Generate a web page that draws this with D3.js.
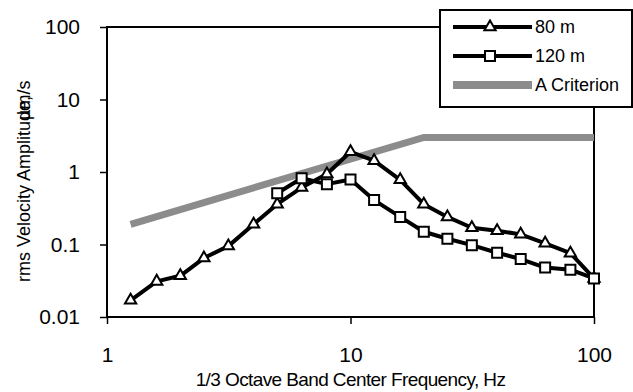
<!DOCTYPE html>
<html>
<head>
<meta charset="utf-8">
<script src="https://cdn.jsdelivr.net/npm/d3@7"></script>
<style>
  html, body { margin: 0; padding: 0; background: #fff; }
  text { font-family: 'Liberation Sans', Arial, sans-serif; fill: #000; }
</style>
</head>
<body>
<svg id="chart" width="633" height="392"></svg>
<script>
// 1/3 octave band centre frequencies, Hz
const freqs = [1.25, 1.6, 2, 2.5, 3.15, 4, 5, 6.3, 8, 10, 12.5, 16, 20, 25, 31.5, 40, 50, 63, 80, 100];

// rms velocity, um/s
const v80 = [0.017, 0.031, 0.037, 0.065, 0.095, 0.19, 0.36, 0.61, 0.94, 1.9, 1.43, 0.78, 0.36, 0.24, 0.17, 0.155, 0.138, 0.104, 0.076, 0.034];
const freqs120 = [5, 6.3, 8, 10, 12.5, 16, 20, 25, 31.5, 40, 50, 63, 80, 100];
const v120 = [0.51, 0.82, 0.68, 0.79, 0.41, 0.24, 0.15, 0.12, 0.098, 0.077, 0.063, 0.048, 0.045, 0.034];
const critFreqs = [1.25, 20, 100];
const critVals = [0.19, 3, 3];

const xTicks = [1, 10, 100];
const yTicks = [0.01, 0.1, 1, 10, 100];
const legendLabels = ['80 m', '120 m', 'A Criterion'];

const margin = { top: 27, right: 39, bottom: 75, left: 107 };
const width = 633 - margin.left - margin.right;
const height = 392 - margin.top - margin.bottom;
const FONT = "'Liberation Sans', Arial, sans-serif";

const svg = d3.select('#chart');
const g = svg.append('g')
    .attr('transform', `translate(${margin.left},${margin.top})`);

const x = d3.scaleLog().domain([1, 100]).range([0, width]);
const y = d3.scaleLog().domain([0.01, 100]).range([height, 0]);

// frame
g.append('rect')
    .attr('width', width)
    .attr('height', height)
    .attr('fill', 'none')
    .attr('stroke', '#000')
    .attr('stroke-width', 2);

// axes
const xAxis = g.append('g')
    .attr('transform', `translate(0,${height})`)
    .call(d3.axisBottom(x).tickValues(xTicks).tickFormat(d3.format('')).tickSize(7).tickPadding(23));
const yAxis = g.append('g')
    .call(d3.axisLeft(y).tickValues(yTicks).tickFormat(d => String(d)).tickSize(7).tickPadding(20));

[xAxis, yAxis].forEach(a => {
    a.select('.domain').remove();
    a.selectAll('line').attr('stroke', '#000').attr('stroke-width', 1.5);
    a.selectAll('text').style('font-size', '21px').style('font-family', FONT);
});

// axis titles
svg.append('text')
    .attr('x', margin.left + width / 2)
    .attr('y', 386)
    .attr('text-anchor', 'middle')
    .style('font-size', '19px')
    .style('letter-spacing', '-0.6px')
    .text('1/3 Octave Band Center Frequency, Hz');

const yTitle = svg.append('text')
    .attr('transform', 'translate(30,282) rotate(-90)')
    .attr('text-anchor', 'start')
    .style('font-size', '18px');
yTitle.append('tspan').text('rms Velocity Amplitude,');
yTitle.append('tspan').attr('dx', -24).text('\u00b5m/s');

const line = d3.line()
    .x(d => x(d[0]))
    .y(d => y(d[1]));

const crit = critFreqs.map((f, i) => [f, critVals[i]]);
const s80 = freqs.map((f, i) => [f, v80[i]]);
const s120 = freqs120.map((f, i) => [f, v120[i]]);

g.append('path')
    .datum(crit)
    .attr('d', line)
    .attr('fill', 'none')
    .attr('stroke', '#8c8c8c')
    .attr('stroke-width', 7);

const triangle = d3.symbol().type(d3.symbolTriangle).size(55);
const square = d3.symbol().type(d3.symbolSquare).size(100);

function drawSeries(data, sym) {
    g.append('path')
        .datum(data)
        .attr('d', line)
        .attr('fill', 'none')
        .attr('stroke', '#000')
        .attr('stroke-width', 4)
        .attr('stroke-linejoin', 'round');
    g.append('g')
        .selectAll('path')
        .data(data)
        .enter()
        .append('path')
            .attr('d', sym)
            .attr('transform', d => `translate(${x(d[0])},${y(d[1])})`)
            .attr('fill', '#fff')
            .attr('stroke', '#000')
            .attr('stroke-width', 2);
}

drawSeries(s80, triangle);
drawSeries(s120, square);

// legend
const legend = svg.append('g').attr('transform', 'translate(440,10)');
legend.append('rect')
    .attr('width', 192)
    .attr('height', 97)
    .attr('fill', '#fff')
    .attr('stroke', '#000')
    .attr('stroke-width', 2);

const rows = legend.selectAll('g.row')
    .data(legendLabels)
    .enter()
    .append('g')
        .attr('class', 'row')
        .attr('transform', (d, i) => `translate(0,${17 + i * 29})`);

rows.append('line')
    .attr('x1', 13)
    .attr('x2', 92)
    .attr('stroke', (d, i) => i === 2 ? '#8c8c8c' : '#000')
    .attr('stroke-width', (d, i) => i === 2 ? 8 : 4);

rows.filter((d, i) => i < 2)
    .append('path')
    .attr('d', (d, i) => i === 0 ? triangle() : square())
    .attr('transform', 'translate(50,0)')
    .attr('fill', '#fff')
    .attr('stroke', '#000')
    .attr('stroke-width', 2);

rows.append('text')
    .attr('x', 95)
    .attr('dy', '0.35em')
    .style('font-size', '18px')
    .text(d => d);
</script>
</body>
</html>
